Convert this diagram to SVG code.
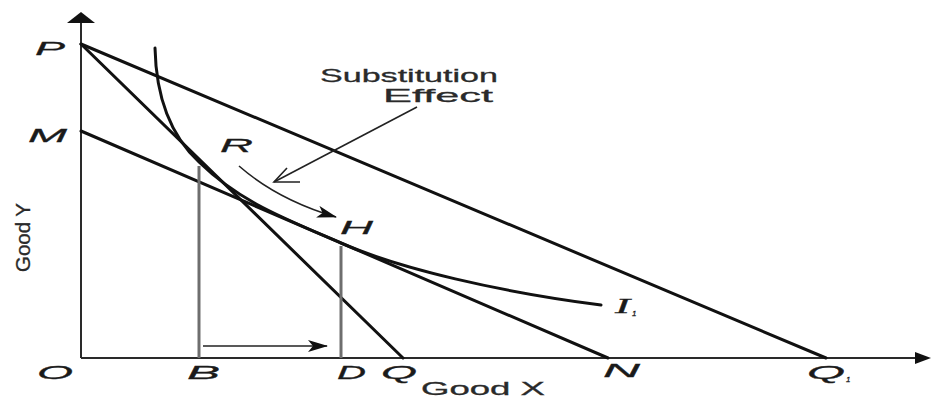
<svg xmlns="http://www.w3.org/2000/svg" width="933" height="400" viewBox="0 0 933 400">
<style>
.bl{stroke:#111;stroke-width:3;fill:none;stroke-linecap:round}
.ax{stroke:#2a2a2a;stroke-width:2;fill:none}
.vl{stroke:#6e6e6e;stroke-width:3;fill:none}
.thin{stroke:#222;stroke-width:1.6;fill:none}
.lbl{font-family:"Liberation Sans",Arial,sans-serif;font-style:italic;font-size:19px;fill:#1a1a1a;stroke:#1a1a1a;stroke-width:0.3}
.txt{font-family:"Liberation Sans",Arial,sans-serif;font-size:19px;fill:#2a2a2a;stroke:#2a2a2a;stroke-width:0.3}
</style>
<defs>
<marker id="big" markerWidth="20" markerHeight="12" refX="19" refY="6" orient="auto" markerUnits="userSpaceOnUse">
<path d="M0,0 L20,6 L0,12 L5,6 Z" fill="#111"/>
</marker>
</defs>
<rect width="933" height="400" fill="#fff"/>
<g id="axes">
<line class="ax" x1="81" y1="20" x2="81" y2="358" stroke-width="3"/>
<polygon points="81,12 95,23 67,23" fill="#111"/>
<line class="ax" x1="81" y1="358" x2="918" y2="358"/>
<polygon points="931,358 915,352 915,364" fill="#111"/>
</g>
<g id="lines">
<line class="bl" x1="81" y1="44" x2="826" y2="358"/>
<line class="bl" x1="81" y1="44" x2="403" y2="358"/>
<line class="bl" x1="81" y1="131" x2="608" y2="358"/>
<path class="bl" d="M155,48 C156,95 170,135 199,162 C239,201 281,217 341,243 C400,269 500,292 601,305"/>
<line class="vl" x1="199" y1="166" x2="199" y2="358"/>
<line class="vl" x1="341" y1="246" x2="341" y2="358"/>
</g>
<g id="connectors">
<path class="thin" d="M239,166 Q278,200 336,217" marker-end="url(#big)"/>
<path class="thin" d="M203,346 L327,346" marker-end="url(#big)"/>
<path class="thin" d="M417,107 L274,182"/>
<polyline class="thin" points="300,182 274,182 287,168"/>
</g>
<g id="labels">
<text class="lbl" x="35" y="55" textLength="30" lengthAdjust="spacingAndGlyphs">P</text>
<text class="lbl" x="28" y="142" textLength="39" lengthAdjust="spacingAndGlyphs">M</text>
<text class="lbl" x="220" y="152" textLength="33" lengthAdjust="spacingAndGlyphs">R</text>
<text class="lbl" x="340" y="234" textLength="33" lengthAdjust="spacingAndGlyphs">H</text>
<text class="lbl" x="37" y="379" textLength="36" lengthAdjust="spacingAndGlyphs">O</text>
<text class="lbl" x="187" y="379" textLength="33" lengthAdjust="spacingAndGlyphs">B</text>
<text class="lbl" x="337" y="379" textLength="29" lengthAdjust="spacingAndGlyphs">D</text>
<text class="lbl" x="381" y="379" textLength="36" lengthAdjust="spacingAndGlyphs">Q</text>
<text class="lbl" x="603" y="377" textLength="37" lengthAdjust="spacingAndGlyphs">N</text>
<text class="lbl" x="807" y="379" textLength="38" lengthAdjust="spacingAndGlyphs">Q</text>
<text class="lbl" x="846" y="382" style="font-size:8px">1</text>
<text class="lbl" x="615" y="313" style="font-family:'Liberation Serif',serif;font-size:20px" textLength="15" lengthAdjust="spacingAndGlyphs">I</text>
<text class="lbl" x="632" y="316" style="font-size:8px">1</text>
<text class="txt" x="320" y="82" textLength="178" lengthAdjust="spacingAndGlyphs">Substitution</text>
<text class="txt" x="383" y="102" textLength="110" lengthAdjust="spacingAndGlyphs">Effect</text>
<text class="txt" x="421" y="395" textLength="124" lengthAdjust="spacingAndGlyphs">Good X</text>
<text class="txt" transform="translate(30,272) rotate(-90)" x="0" y="0" style="font-size:20px" textLength="69" lengthAdjust="spacingAndGlyphs">Good Y</text>
</g>
</svg>
